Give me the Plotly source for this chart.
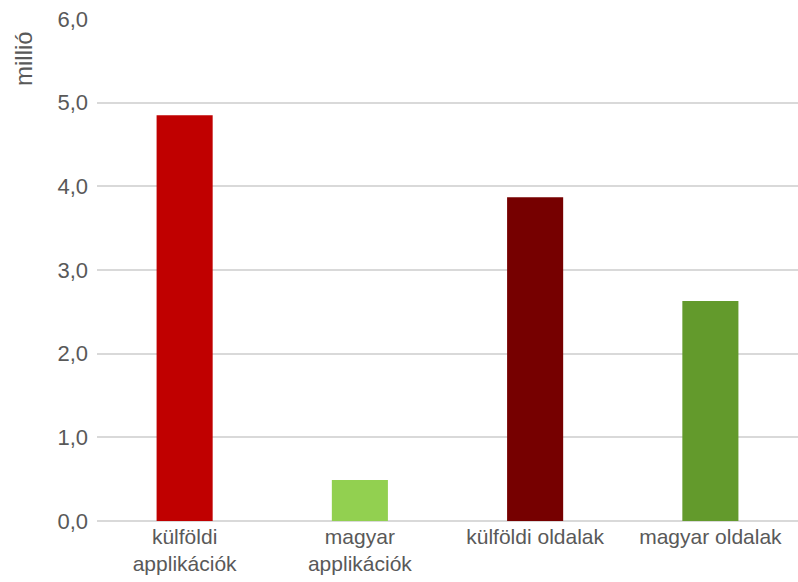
import plotly.graph_objects as go

categories = ["külföldi<br>applikációk", "magyar<br>applikációk", "külföldi oldalak", "magyar oldalak"]
values = [4.85, 0.49, 3.87, 2.63]
colors = ["#C00000", "#92D050", "#760000", "#639A2C"]
y_ticks = [0, 1, 2, 3, 4, 5, 6]

W, H = 798, 582
ml, mr, mt, mb = 97, 0, 19, 61

fig = go.Figure(
    go.Bar(
        x=categories,
        y=values,
        marker=dict(color=colors, line=dict(width=0)),
        width=0.32,
        hoverinfo="skip"
    )
)

pw = W - ml - mr
ph = H - mt - mb

fig.update_layout(
    width=W,
    height=H,
    margin=dict(l=ml, r=mr, t=mt, b=mb, pad=0),
    plot_bgcolor="white",
    paper_bgcolor="white",
    showlegend=False,
    font=dict(family="Liberation Sans, Arial, sans-serif", color="#595959"),
    xaxis=dict(
        showgrid=False,
        zeroline=False,
        showline=False,
        ticks="",
        automargin=False,
        ticklabelstandoff=1,
        tickfont=dict(size=21, color="#595959"),
    ),
    yaxis=dict(
        range=[0, 6],
        tickmode="array",
        tickvals=y_ticks,
        ticktext=[f"{v:.1f}".replace(".", ",") for v in y_ticks],
        showgrid=True,
        gridcolor="#D9D9D9",
        gridwidth=1.5,
        zeroline=True,
        zerolinecolor="#D9D9D9",
        zerolinewidth=1.5,
        showline=False,
        ticks="",
        automargin=False,
        ticklabelstandoff=8,
        tickfont=dict(size=22, color="#595959"),
    ),
    annotations=[
        dict(
            text="millió",
            textangle=-90,
            xref="paper",
            yref="paper",
            x=(23 - ml) / pw,
            y=(H - mb - 59) / ph,
            xanchor="center",
            yanchor="middle",
            showarrow=False,
            font=dict(size=24, color="#595959"),
        )
    ],
)

# drop the default 8px body margin so the figure fills the window
fig.write_html(
    "out.html",
    config=dict(displayModeBar=False),
    post_script="document.body.style.margin='0px';"
)
